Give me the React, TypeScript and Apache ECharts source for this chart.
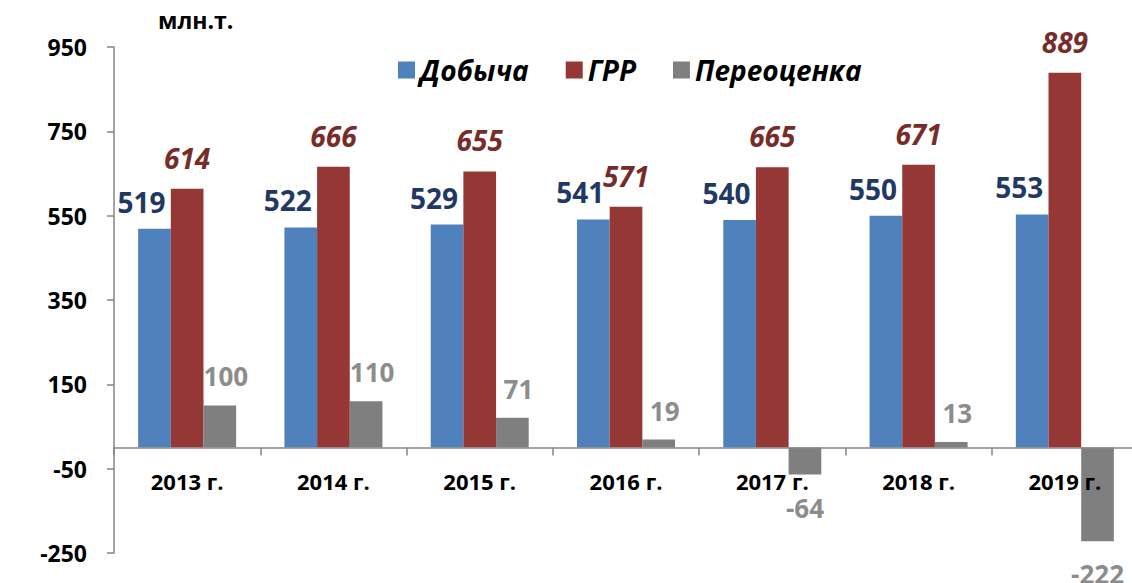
import React, { useEffect, useRef } from "react";
import * as echarts from "echarts";

const years = ["2013 г.", "2014 г.", "2015 г.", "2016 г.", "2017 г.", "2018 г.", "2019 г."];
const production = [519, 522, 529, 541, 540, 550, 553];
const exploration = [614, 666, 655, 571, 665, 671, 889];
const revaluation = [100, 110, 71, 19, -64, 13, -222];
const seriesNames = ["Добыча", "ГРР", "Переоценка"];
const unitLabel = "млн.т.";
const yMin = -250;
const yMax = 950;
const yStep = 200;

const FONT = "'Open Sans', 'DejaVu Sans', sans-serif";
const GRID_TOP = 47;
const GRID_H = 506;

export default function App() {
  const ref = useRef<HTMLDivElement>(null);
  useEffect(() => {
    if (!ref.current) return;
    const chart = echarts.init(ref.current, undefined, { renderer: "svg" });
    // distance of the zero line above the grid bottom
    const zeroOffset = (GRID_H * (0 - yMin)) / (yMax - yMin);
    chart.setOption({
      animation: false,
      backgroundColor: "#ffffff",
      title: {
        text: unitLabel,
        left: 153,
        top: 3,
        textStyle: { fontFamily: FONT, fontWeight: "bold", fontSize: 23, color: "#000" },
      },
      legend: {
        left: 393,
        top: 51,
        itemWidth: 17,
        itemHeight: 17,
        itemGap: 37,
        icon: "rect",
        textStyle: { fontFamily: FONT, fontSize: 28, fontWeight: "bold", fontStyle: "italic", color: "#000" },
        data: seriesNames,
      },
      grid: {
        left: 114,
        top: GRID_TOP,
        width: 1024,
        height: GRID_H,
        containLabel: false,
        outerBoundsMode: "none",
      },
      xAxis: {
        type: "category",
        data: years,
        z: 5,
        offset: -zeroOffset,
        axisLine: { onZero: false, lineStyle: { color: "#868686", width: 1.5 } },
        axisTick: { show: true, length: 8, lineStyle: { color: "#868686", width: 1.5 } },
        axisLabel: { margin: 22, fontFamily: FONT, fontSize: 22, fontWeight: "bold", color: "#000" },
        splitLine: { show: false },
      },
      yAxis: {
        type: "value",
        min: yMin,
        max: yMax,
        interval: yStep,
        axisLine: { show: true, lineStyle: { color: "#868686", width: 1.5 } },
        axisTick: { show: true, length: 7, lineStyle: { color: "#868686", width: 1.5 } },
        axisLabel: { margin: 27, fontFamily: FONT, fontSize: 23, fontWeight: "bold", color: "#000" },
        splitLine: { show: false },
      },
      series: [
        {
          name: seriesNames[0],
          type: "bar",
          barGap: "0%",
          barCategoryGap: "33%",
          itemStyle: { color: "#4F81BD" },
          data: production,
          label: {
            show: true,
            position: "top",
            distance: 13,
            offset: [-13, 0],
            fontFamily: FONT,
            fontSize: 28,
            fontWeight: "bold",
            color: "#1F3864",
          },
        },
        {
          name: seriesNames[1],
          type: "bar",
          barGap: "0%",
          barCategoryGap: "33%",
          itemStyle: { color: "#953735" },
          data: exploration,
          label: {
            show: true,
            position: "top",
            distance: 17,
            fontFamily: FONT,
            fontSize: 28,
            fontWeight: "bold",
            fontStyle: "italic",
            color: "#772C2A",
          },
        },
        {
          name: seriesNames[2],
          type: "bar",
          barGap: "0%",
          barCategoryGap: "33%",
          itemStyle: { color: "#7F7F7F" },
          data: revaluation.map((v) => ({
            value: v,
            label: {
              position: v < 0 ? "bottom" : "top",
              distance: v < 0 ? 20 : 16,
              offset: v < 0 ? [0, 0] : [6, 0],
            },
          })),
          label: {
            show: true,
            fontFamily: FONT,
            fontSize: 26,
            fontWeight: "bold",
            color: "#8C8C8C",
          },
        },
      ],
    });
    return () => chart.dispose();
  }, []);
  return (
    <div
      ref={ref}
      style={{ position: "fixed", left: 0, top: 0, width: 1132, height: 583, background: "#fff" }}
    />
  );
}
